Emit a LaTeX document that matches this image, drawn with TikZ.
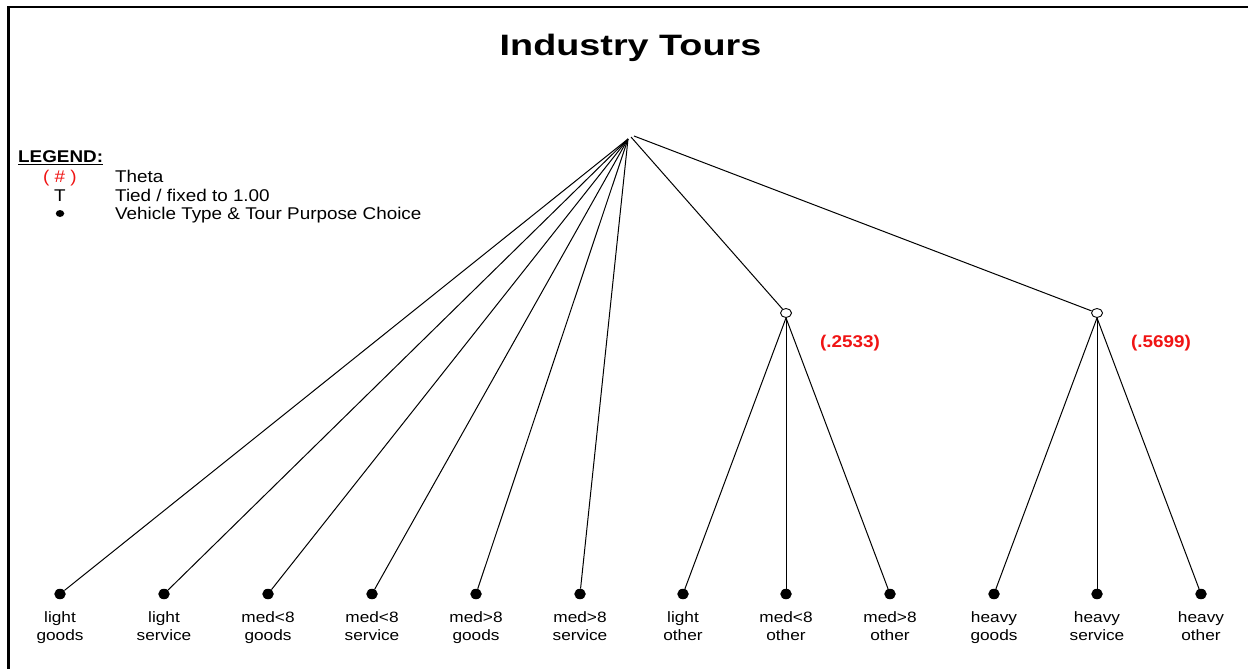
\documentclass[tikz,border=0pt]{standalone}
\usepackage{fontspec}
\setmainfont{Liberation Sans}
\newfontfamily\titlefont[FakeStretch=1.28]{Liberation Sans}
\newfontfamily\legfont[FakeStretch=1.11]{Liberation Sans}
\newfontfamily\leaffont[FakeStretch=1.15]{Liberation Sans}
\usetikzlibrary{shapes.geometric}
\definecolor{thetared}{RGB}{240,20,20}
\begin{document}
\begin{tikzpicture}[x=1pt,y=-1pt,
  conn/.style={line width=1pt},
  leafdot/.style={ellipse,fill=black,inner sep=0pt,minimum width=11.5pt,minimum height=10.5pt},
  nest/.style={ellipse,draw,fill=white,line width=0.9pt,inner sep=0pt,minimum width=11pt,minimum height=9pt},
  leaflabel/.style={font=\leaffont\fontsize{15}{18}\selectfont,align=center,anchor=north,inner sep=0pt},
  legtext/.style={font=\legfont\fontsize{17}{20}\selectfont,anchor=base west,inner sep=0pt},
  legsym/.style={font=\legfont\fontsize{17}{20}\selectfont,anchor=base,inner sep=0pt},
  theta/.style={font=\legfont\bfseries\fontsize{17}{20}\selectfont,text=thetared,anchor=base,inner sep=0pt}]
\useasboundingbox (0,0) rectangle (1248,669);
\fill[white] (0,0) rectangle (1248,669);
\draw[line width=2.6pt] (8.5,669) -- (8.5,7) -- (1248,7);
% title
\node[font=\titlefont\bfseries\fontsize{29.5}{34}\selectfont,anchor=base,inner sep=0pt] (title) at (630.5,55.5) {Industry Tours};
% legend
\node[legtext,font=\legfont\bfseries\fontsize{17}{20}\selectfont] (leghead) at (18,162) {LEGEND:};
\draw[line width=1.3pt] ([yshift=-2.5pt]leghead.base west) -- ([yshift=-2.5pt]leghead.base east);
\node[legsym,text=thetared] (symtheta) at (60,182) {( \# )};
\node[legtext] (txttheta) at (115,182) {Theta};
\node[legsym] (symtied) at (60,201) {T};
\node[legtext] (txttied) at (115,201) {Tied / fixed to 1.00};
\node[ellipse,fill=black,inner sep=0pt,minimum width=8.5pt,minimum height=7pt] (symdot) at (60,213.5) {};
\node[legtext] (txtdot) at (115,219) {Vehicle Type \& Tour Purpose Choice};
% structure
\coordinate (apex) at (628,139);
\coordinate (apexA) at (631,137);
\coordinate (apexB) at (634,136);
\node[nest] (n1) at (786,313) {};
\node[nest] (n2) at (1097,313) {};
\node[theta] (th1) at (850,347) {(.2533)};
\node[theta] (th2) at (1161,347) {(.5699)};
\foreach \x [count=\i] in {60,164,268,372,476,580,683,786,890,994,1097,1201}
  \node[leafdot] (leaf\i) at (\x,594) {};
\foreach \i/\t in {1/{light\\goods},2/{light\\service},3/{med<8\\goods},4/{med<8\\service},
  5/{med>8\\goods},6/{med>8\\service},7/{light\\other},8/{med<8\\other},9/{med>8\\other},
  10/{heavy\\goods},11/{heavy\\service},12/{heavy\\other}}
  \node[leaflabel] (lab\i) at ([yshift=-17pt]leaf\i.center) {\t};
\foreach \i in {1,...,6}
  \draw[conn] (apex) -- (leaf\i);
\draw[conn] (apexA) -- (n1);
\draw[conn] (apexB) -- (n2);
\foreach \i in {7,8,9}
  \draw[conn] (n1.south) -- (leaf\i);
\foreach \i in {10,11,12}
  \draw[conn] (n2.south) -- (leaf\i);
\end{tikzpicture}
\end{document}
